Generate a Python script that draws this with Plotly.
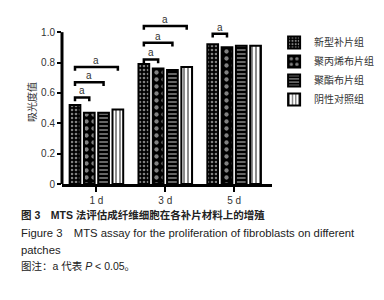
import plotly.graph_objects as go

categories = ["1 d", "3 d", "5 d"]
series_names = ["新型补片组", "聚丙烯布片组", "聚酯布片组", "阴性对照组"]
values = [
    [0.52, 0.79, 0.92],
    [0.47, 0.76, 0.90],
    [0.47, 0.75, 0.91],
    [0.49, 0.77, 0.91],
]
y_ticks = [0, 0.2, 0.4, 0.6, 0.8, 1.0]
y_ticktext = ["0", "0.2", "0.4", "0.6", "0.8", "1.0"]
# significance brackets: (group index, from series, to series, height)
brackets = [
    (0, 0, 1, 0.57), (0, 0, 2, 0.67), (0, 0, 3, 0.77),
    (1, 0, 1, 0.82), (1, 0, 2, 0.93), (1, 0, 3, 1.04),
    (2, 0, 1, 0.99),
]

patterns = [
    dict(shape=".", fgcolor="white", bgcolor="black", size=4, solidity=0.35, fillmode="overlay"),
    dict(shape=".", fgcolor="white", bgcolor="black", size=7, solidity=0.3, fillmode="overlay"),
    dict(shape="-", fgcolor="white", bgcolor="black", size=4, solidity=0.4, fillmode="overlay"),
    dict(shape="|", fgcolor="black", bgcolor="white", size=4, solidity=0.45, fillmode="overlay"),
]
fills = ["black", "black", "black", "white"]

BARGAP = 0.17
fig = go.Figure()
xs = list(range(len(categories)))
for i, name in enumerate(series_names):
    fig.add_trace(go.Bar(
        x=xs, y=values[i], name=name,
        marker=dict(color=fills[i], line=dict(color="black", width=2), pattern=patterns[i]),
    ))

n = len(series_names)
slot = (1 - BARGAP) / n
def bar_center(g, s):
    return g - (1 - BARGAP) / 2 + slot * (s + 0.5)

shapes = []
annotations = []
for g, s1, s2, h in brackets:
    x1, x2 = bar_center(g, s1), bar_center(g, s2)
    shapes.append(dict(type="path", xref="x", yref="y",
                       path=f"M {x1} {h-0.025} L {x1} {h} L {x2} {h} L {x2} {h-0.025}",
                       line=dict(color="black", width=2.5)))
    annotations.append(dict(x=(x1 + x2) / 2, y=h, xref="x", yref="y", text="a",
                            showarrow=False, yanchor="bottom", yshift=-1,
                            font=dict(size=10, color="#333", family="Liberation Sans")))

# y axis line from 0 to 1.0 only
shapes.append(dict(type="line", xref="paper", yref="y", x0=0, x1=0, y0=0, y1=1.0,
                   line=dict(color="black", width=3)))

# the page body adds an 8px offset; compensate
OFF = 8
PL, PB_SCREEN, PW, PH = 62, 184, 210, 164
W, H = 384 - OFF, 300 - OFF
ml = PL - OFF
mt = PB_SCREEN - PH - OFF
mb = H - mt - PH
mr = W - ml - PW

def py(pix):
    return (PB_SCREEN - pix) / PH

caps = [
    (215, "<b>图 3　MTS 法评估成纤维细胞在各补片材料上的增殖</b>", 10.5),
    (233, "Figure 3　MTS assay for the proliferation of fibroblasts on different", 11.3),
    (250, "patches", 11.3),
    (266, "图注：a 代表 <i>P</i> < 0.05。", 10.5),
]
for ypix, t, fs in caps:
    annotations.append(dict(x=(19 - PL) / PW, y=py(ypix), xref="paper", yref="paper",
                            text=t, showarrow=False, xanchor="left", yanchor="middle",
                            font=dict(size=fs, color="#222",
                                      family="Liberation Sans, Noto Sans CJK SC")))

fig.update_layout(
    width=W, height=H,
    margin=dict(l=ml, r=mr, t=mt, b=mb, autoexpand=False),
    paper_bgcolor="white", plot_bgcolor="white",
    barmode="group", bargap=BARGAP, bargroupgap=0.25,
    showlegend=True,
    legend=dict(x=1.01, y=py(28), xanchor="left", yanchor="top",
                font=dict(size=10, color="#333", family="Noto Sans CJK SC"),
                tracegroupgap=0, itemwidth=30),
    xaxis=dict(tickmode="array", tickvals=xs, ticktext=categories, range=[-0.5, 2.55],
               showline=True, linecolor="black", linewidth=2.5, ticks="outside",
               ticklen=5, tickwidth=2, tickcolor="black", showgrid=False, zeroline=False,
               automargin=False,
               tickfont=dict(size=10, color="#333", family="Liberation Sans")),
    yaxis=dict(range=[0, 1.08], tickvals=y_ticks, ticktext=y_ticktext,
               showline=False, ticks="outside", ticklen=4, tickwidth=2, tickcolor="black",
               showgrid=False, zeroline=False, automargin=False,
               tickfont=dict(size=10, color="#333", family="Liberation Sans"),
               title=dict(text="吸光度值", standoff=2,
                          font=dict(size=10, color="#333", family="Noto Sans CJK SC"))),
    shapes=shapes, annotations=annotations,
)
fig.write_html("out.html")
